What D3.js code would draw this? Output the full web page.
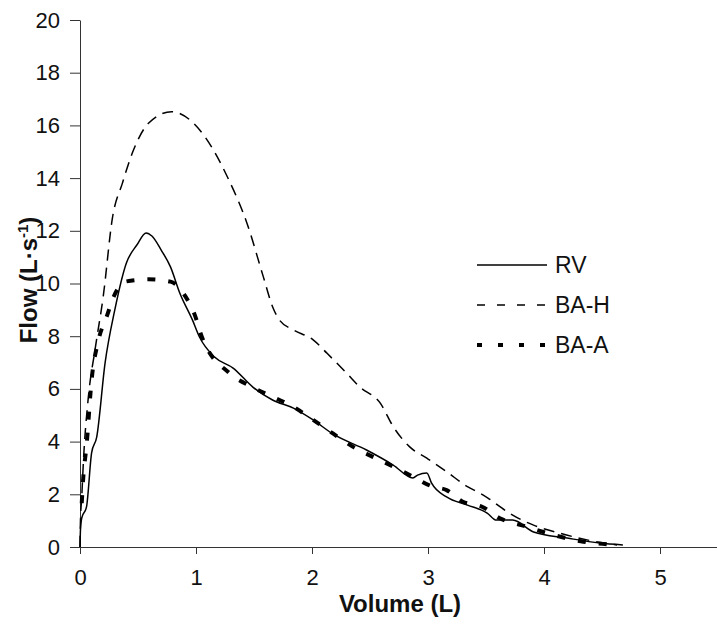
<!DOCTYPE html>
<meta charset="utf-8">
<style>
body { margin: 0; background: #fff; }
svg { display: block; font-family: 'Liberation Sans', Arial, sans-serif; }
.axis path, .axis line { stroke: #333; stroke-width: 1; }
.axis text { font-size: 22px; fill: #111; font-family: 'Liberation Sans', Arial, sans-serif; }
.title { font-size: 24px; font-weight: bold; fill: #111; }
.legendtext { font-size: 23px; fill: #111; }
</style>
<body>
<svg width="717" height="631"></svg>
<script src="https://cdn.jsdelivr.net/npm/d3@7"></script>
<script>

// flow-volume curves, values
var xTicks = [0, 1, 2, 3, 4, 5];
var yTicks = [0, 2, 4, 6, 8, 10, 12, 14, 16, 18, 20];

var rvVol  = [0, 0.004, 0.015, 0.056, 0.10, 0.144, 0.216, 0.30, 0.40, 0.49, 0.57, 0.62, 0.70, 0.78, 0.86, 0.97, 1.03, 1.16, 1.32, 1.49, 1.66, 1.84, 2.01, 2.18, 2.47, 2.70, 2.87, 2.91, 2.99, 3.03, 3.16, 3.34, 3.51, 3.59, 3.73, 3.91, 4.20, 4.48, 4.68];
var rvFlow = [0, 0.65, 1.1, 1.52, 3.57, 4.17, 6.98, 9.0, 10.78, 11.46, 11.92, 11.8, 11.27, 10.63, 9.64, 8.61, 7.97, 7.21, 6.79, 6.07, 5.58, 5.27, 4.82, 4.29, 3.68, 3.11, 2.62, 2.73, 2.81, 2.43, 1.90, 1.59, 1.29, 1.02, 1.02, 0.57, 0.34, 0.15, 0.08];

var bahVol  = [0, 0.004, 0.015, 0.03, 0.07, 0.13, 0.20, 0.28, 0.365, 0.45, 0.59, 0.79, 0.98, 1.15, 1.27, 1.44, 1.58, 1.66, 1.72, 1.84, 2.01, 2.13, 2.30, 2.41, 2.59, 2.70, 2.84, 2.99, 3.16, 3.34, 3.45, 3.52, 3.62, 3.73, 3.91, 4.14, 4.37, 4.63];
var bahFlow = [0, 1.0, 1.9, 3.3, 5.6, 7.5, 9.5, 12.5, 13.8, 14.94, 16.08, 16.52, 16.08, 15.07, 14.05, 12.28, 10.26, 9.12, 8.61, 8.24, 7.86, 7.35, 6.59, 6.08, 5.45, 4.57, 3.81, 3.37, 2.86, 2.29, 2.04, 1.85, 1.53, 1.21, 0.83, 0.52, 0.27, 0.08];

var baaVol  = [0.015, 0.026, 0.058, 0.10, 0.16, 0.23, 0.29, 0.39, 0.59, 0.78, 0.91, 0.99, 1.05, 1.29, 1.48, 1.66, 1.84, 2.01, 2.18, 2.35, 2.52, 2.70, 2.87, 3.04, 3.16, 3.30, 3.47, 3.62, 3.85, 4.08, 4.34, 4.63];
var baaFlow = [1.66, 2.5, 3.93, 6.33, 7.86, 8.74, 9.5, 10.07, 10.16, 10.07, 9.5, 8.8, 7.98, 6.59, 6.08, 5.7, 5.32, 4.82, 4.31, 3.81, 3.43, 3.05, 2.67, 2.29, 2.16, 1.72, 1.52, 1.09, 0.77, 0.46, 0.2, 0.08];

var seriesNames = ["RV", "BA-H", "BA-A"];

var svg = d3.select("svg");

var x = d3.scaleLinear().domain([0, 5.5]).range([80, 718]);
var y = d3.scaleLinear().domain([0, 20]).range([547, 20]);

var styles = [
  {width: 1.5, dash: null},
  {width: 1.5, dash: "11,7"},
  {width: 4, dash: "8,13"}
];

function zip(xs, ys) {
  return xs.map(function(v, i) { return [v, ys[i]]; });
}
var series = [zip(rvVol, rvFlow), zip(bahVol, bahFlow), zip(baaVol, baaFlow)];

// axes
svg.append("g")
    .attr("class", "axis")
    .attr("transform", "translate(80,0)")
    .call(d3.axisLeft(y).tickValues(yTicks).tickSize(10).tickSizeOuter(0).tickPadding(10));

svg.append("g")
    .attr("class", "axis")
    .attr("transform", "translate(0,547)")
    .call(d3.axisBottom(x).tickValues(xTicks).tickFormat(d3.format("d")).tickSize(7).tickSizeOuter(0).tickPadding(15));

var line = d3.line()
    .x(function(d) { return x(d[0]); })
    .y(function(d) { return y(d[1]); })
    .curve(d3.curveMonotoneX);

svg.selectAll(".curve")
    .data(series)
    .enter().append("path")
      .attr("class", "curve")
      .attr("fill", "none")
      .attr("stroke", "#000")
      .attr("stroke-width", function(d, i) { return styles[i].width; })
      .attr("stroke-dasharray", function(d, i) { return styles[i].dash; })
      .attr("d", line);

// legend
var legend = svg.selectAll(".legend")
    .data(seriesNames)
    .enter().append("g")
      .attr("class", "legend")
      .attr("transform", function(d, i) { return "translate(477," + (265 + i * 40) + ")"; });

legend.append("line")
    .attr("x1", 0).attr("x2", 70)
    .attr("stroke", "#000")
    .attr("stroke-width", function(d, i) { return styles[i].width; })
    .attr("stroke-dasharray", function(d, i) { return i == 1 ? "8,12" : (i == 2 ? "5,16" : null); });

legend.append("text")
    .attr("class", "legendtext")
    .attr("x", 78)
    .attr("y", 8)
    .text(function(d) { return d; });

// axis titles
svg.append("text")
    .attr("class", "title")
    .attr("x", 400)
    .attr("y", 612)
    .attr("text-anchor", "middle")
    .text("Volume (L)");

var yt = svg.append("text")
    .attr("class", "title")
    .attr("transform", "translate(37,280) rotate(-90)")
    .attr("text-anchor", "middle");
yt.append("tspan").text("Flow (L\u00b7s");
yt.append("tspan").attr("dy", -9).style("font-size", "15px").text("-1");
yt.append("tspan").attr("dy", 9).text(")");

</script>
</body>
